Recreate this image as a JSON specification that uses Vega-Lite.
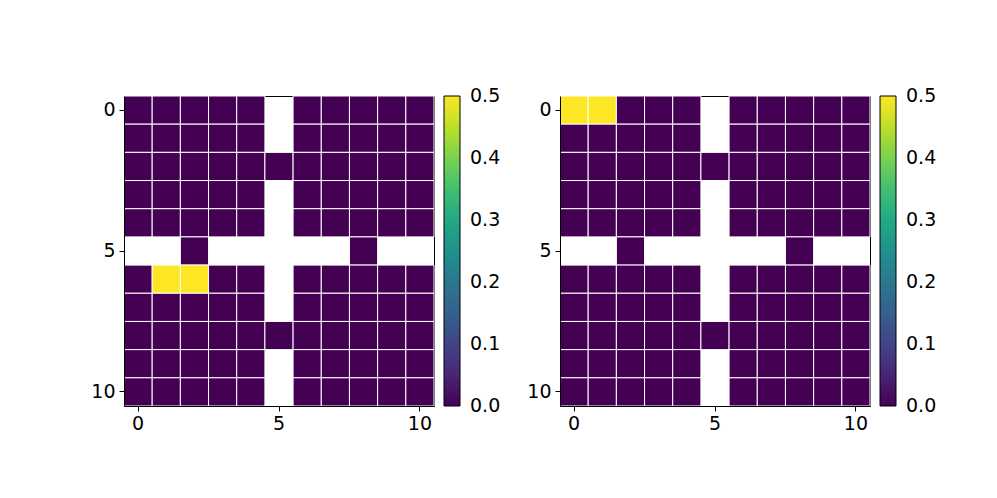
{
  "$schema": "https://vega.github.io/schema/vega-lite/v6.json",
  "background": "white",
  "padding": {"left": 90, "top": 95, "right": 5, "bottom": 5},
  "spacing": 24,
  "config": {
    "font": "DejaVu Sans",
    "view": {"stroke": "black", "strokeWidth": 1},
    "axis": {"labelFont": "DejaVu Sans", "labelFontSize": 19, "labelColor": "black", "tickColor": "black", "tickSize": 5, "labelPadding": 4, "domainColor": "black", "grid": false, "title": null},
    "legend": {"labelFont": "DejaVu Sans", "labelFontSize": 19, "labelColor": "black"}
  },
  "datasets": {
    "L": [
      {"r":0,"c":0,"v":0},{"r":0,"c":1,"v":0},{"r":0,"c":2,"v":0},{"r":0,"c":3,"v":0},{"r":0,"c":4,"v":0},{"r":0,"c":6,"v":0},{"r":0,"c":7,"v":0},{"r":0,"c":8,"v":0},{"r":0,"c":9,"v":0},{"r":0,"c":10,"v":0},
      {"r":1,"c":0,"v":0},{"r":1,"c":1,"v":0},{"r":1,"c":2,"v":0},{"r":1,"c":3,"v":0},{"r":1,"c":4,"v":0},{"r":1,"c":6,"v":0},{"r":1,"c":7,"v":0},{"r":1,"c":8,"v":0},{"r":1,"c":9,"v":0},{"r":1,"c":10,"v":0},
      {"r":2,"c":0,"v":0},{"r":2,"c":1,"v":0},{"r":2,"c":2,"v":0},{"r":2,"c":3,"v":0},{"r":2,"c":4,"v":0},{"r":2,"c":5,"v":0},{"r":2,"c":6,"v":0},{"r":2,"c":7,"v":0},{"r":2,"c":8,"v":0},{"r":2,"c":9,"v":0},{"r":2,"c":10,"v":0},
      {"r":3,"c":0,"v":0},{"r":3,"c":1,"v":0},{"r":3,"c":2,"v":0},{"r":3,"c":3,"v":0},{"r":3,"c":4,"v":0},{"r":3,"c":6,"v":0},{"r":3,"c":7,"v":0},{"r":3,"c":8,"v":0},{"r":3,"c":9,"v":0},{"r":3,"c":10,"v":0},
      {"r":4,"c":0,"v":0},{"r":4,"c":1,"v":0},{"r":4,"c":2,"v":0},{"r":4,"c":3,"v":0},{"r":4,"c":4,"v":0},{"r":4,"c":6,"v":0},{"r":4,"c":7,"v":0},{"r":4,"c":8,"v":0},{"r":4,"c":9,"v":0},{"r":4,"c":10,"v":0},
      {"r":5,"c":2,"v":0},{"r":5,"c":8,"v":0},
      {"r":6,"c":0,"v":0},{"r":6,"c":1,"v":0.5},{"r":6,"c":2,"v":0.5},{"r":6,"c":3,"v":0},{"r":6,"c":4,"v":0},{"r":6,"c":6,"v":0},{"r":6,"c":7,"v":0},{"r":6,"c":8,"v":0},{"r":6,"c":9,"v":0},{"r":6,"c":10,"v":0},
      {"r":7,"c":0,"v":0},{"r":7,"c":1,"v":0},{"r":7,"c":2,"v":0},{"r":7,"c":3,"v":0},{"r":7,"c":4,"v":0},{"r":7,"c":6,"v":0},{"r":7,"c":7,"v":0},{"r":7,"c":8,"v":0},{"r":7,"c":9,"v":0},{"r":7,"c":10,"v":0},
      {"r":8,"c":0,"v":0},{"r":8,"c":1,"v":0},{"r":8,"c":2,"v":0},{"r":8,"c":3,"v":0},{"r":8,"c":4,"v":0},{"r":8,"c":5,"v":0},{"r":8,"c":6,"v":0},{"r":8,"c":7,"v":0},{"r":8,"c":8,"v":0},{"r":8,"c":9,"v":0},{"r":8,"c":10,"v":0},
      {"r":9,"c":0,"v":0},{"r":9,"c":1,"v":0},{"r":9,"c":2,"v":0},{"r":9,"c":3,"v":0},{"r":9,"c":4,"v":0},{"r":9,"c":6,"v":0},{"r":9,"c":7,"v":0},{"r":9,"c":8,"v":0},{"r":9,"c":9,"v":0},{"r":9,"c":10,"v":0},
      {"r":10,"c":0,"v":0},{"r":10,"c":1,"v":0},{"r":10,"c":2,"v":0},{"r":10,"c":3,"v":0},{"r":10,"c":4,"v":0},{"r":10,"c":6,"v":0},{"r":10,"c":7,"v":0},{"r":10,"c":8,"v":0},{"r":10,"c":9,"v":0},{"r":10,"c":10,"v":0}
    ],
    "R": [
      {"r":0,"c":0,"v":0.5},{"r":0,"c":1,"v":0.5},{"r":0,"c":2,"v":0},{"r":0,"c":3,"v":0},{"r":0,"c":4,"v":0},{"r":0,"c":6,"v":0},{"r":0,"c":7,"v":0},{"r":0,"c":8,"v":0},{"r":0,"c":9,"v":0},{"r":0,"c":10,"v":0},
      {"r":1,"c":0,"v":0},{"r":1,"c":1,"v":0},{"r":1,"c":2,"v":0},{"r":1,"c":3,"v":0},{"r":1,"c":4,"v":0},{"r":1,"c":6,"v":0},{"r":1,"c":7,"v":0},{"r":1,"c":8,"v":0},{"r":1,"c":9,"v":0},{"r":1,"c":10,"v":0},
      {"r":2,"c":0,"v":0},{"r":2,"c":1,"v":0},{"r":2,"c":2,"v":0},{"r":2,"c":3,"v":0},{"r":2,"c":4,"v":0},{"r":2,"c":5,"v":0},{"r":2,"c":6,"v":0},{"r":2,"c":7,"v":0},{"r":2,"c":8,"v":0},{"r":2,"c":9,"v":0},{"r":2,"c":10,"v":0},
      {"r":3,"c":0,"v":0},{"r":3,"c":1,"v":0},{"r":3,"c":2,"v":0},{"r":3,"c":3,"v":0},{"r":3,"c":4,"v":0},{"r":3,"c":6,"v":0},{"r":3,"c":7,"v":0},{"r":3,"c":8,"v":0},{"r":3,"c":9,"v":0},{"r":3,"c":10,"v":0},
      {"r":4,"c":0,"v":0},{"r":4,"c":1,"v":0},{"r":4,"c":2,"v":0},{"r":4,"c":3,"v":0},{"r":4,"c":4,"v":0},{"r":4,"c":6,"v":0},{"r":4,"c":7,"v":0},{"r":4,"c":8,"v":0},{"r":4,"c":9,"v":0},{"r":4,"c":10,"v":0},
      {"r":5,"c":2,"v":0},{"r":5,"c":8,"v":0},
      {"r":6,"c":0,"v":0},{"r":6,"c":1,"v":0},{"r":6,"c":2,"v":0},{"r":6,"c":3,"v":0},{"r":6,"c":4,"v":0},{"r":6,"c":6,"v":0},{"r":6,"c":7,"v":0},{"r":6,"c":8,"v":0},{"r":6,"c":9,"v":0},{"r":6,"c":10,"v":0},
      {"r":7,"c":0,"v":0},{"r":7,"c":1,"v":0},{"r":7,"c":2,"v":0},{"r":7,"c":3,"v":0},{"r":7,"c":4,"v":0},{"r":7,"c":6,"v":0},{"r":7,"c":7,"v":0},{"r":7,"c":8,"v":0},{"r":7,"c":9,"v":0},{"r":7,"c":10,"v":0},
      {"r":8,"c":0,"v":0},{"r":8,"c":1,"v":0},{"r":8,"c":2,"v":0},{"r":8,"c":3,"v":0},{"r":8,"c":4,"v":0},{"r":8,"c":5,"v":0},{"r":8,"c":6,"v":0},{"r":8,"c":7,"v":0},{"r":8,"c":8,"v":0},{"r":8,"c":9,"v":0},{"r":8,"c":10,"v":0},
      {"r":9,"c":0,"v":0},{"r":9,"c":1,"v":0},{"r":9,"c":2,"v":0},{"r":9,"c":3,"v":0},{"r":9,"c":4,"v":0},{"r":9,"c":6,"v":0},{"r":9,"c":7,"v":0},{"r":9,"c":8,"v":0},{"r":9,"c":9,"v":0},{"r":9,"c":10,"v":0},
      {"r":10,"c":0,"v":0},{"r":10,"c":1,"v":0},{"r":10,"c":2,"v":0},{"r":10,"c":3,"v":0},{"r":10,"c":4,"v":0},{"r":10,"c":6,"v":0},{"r":10,"c":7,"v":0},{"r":10,"c":8,"v":0},{"r":10,"c":9,"v":0},{"r":10,"c":10,"v":0}
    ]
  },
  "hconcat": [
    {
      "data": {"name": "L"},
      "width": 310,
      "height": 310,
      "mark": {"type": "rect", "stroke": "white", "strokeWidth": 1},
      "encoding": {
        "x": {"field": "c", "type": "ordinal", "scale": {"domain": [0,1,2,3,4,5,6,7,8,9,10], "paddingInner": 0, "paddingOuter": 0}, "axis": {"values": [0,5,10], "labelAngle": 0, "labelPadding": 3}},
        "y": {"field": "r", "type": "ordinal", "scale": {"domain": [0,1,2,3,4,5,6,7,8,9,10], "paddingInner": 0, "paddingOuter": 0}, "axis": {"values": [0,5,10]}},
        "color": {"field": "v", "type": "quantitative", "scale": {"scheme": "viridis", "domain": [0, 0.5]},
          "legend": {"title": null, "values": [0,0.1,0.2,0.3,0.4,0.5], "format": ".1f", "gradientLength": 310, "gradientThickness": 16, "gradientStrokeColor": "black", "gradientStrokeWidth": 1, "offset": 10, "labelOffset": 10, "padding": 0,
            "encode": {"labels": {"update": {"baseline": {"value": "middle"}}}}}}
      }
    },
    {
      "data": {"name": "R"},
      "width": 310,
      "height": 310,
      "mark": {"type": "rect", "stroke": "white", "strokeWidth": 1},
      "encoding": {
        "x": {"field": "c", "type": "ordinal", "scale": {"domain": [0,1,2,3,4,5,6,7,8,9,10], "paddingInner": 0, "paddingOuter": 0}, "axis": {"values": [0,5,10], "labelAngle": 0, "labelPadding": 3}},
        "y": {"field": "r", "type": "ordinal", "scale": {"domain": [0,1,2,3,4,5,6,7,8,9,10], "paddingInner": 0, "paddingOuter": 0}, "axis": {"values": [0,5,10]}},
        "color": {"field": "v", "type": "quantitative", "scale": {"scheme": "viridis", "domain": [0, 0.5]},
          "legend": {"title": null, "values": [0,0.1,0.2,0.3,0.4,0.5], "format": ".1f", "gradientLength": 310, "gradientThickness": 16, "gradientStrokeColor": "black", "gradientStrokeWidth": 1, "offset": 10, "labelOffset": 10, "padding": 0,
            "encode": {"labels": {"update": {"baseline": {"value": "middle"}}}}}}
      }
    }
  ],
  "resolve": {"scale": {"color": "independent", "x": "independent", "y": "independent"}, "legend": {"color": "independent"}}
}
